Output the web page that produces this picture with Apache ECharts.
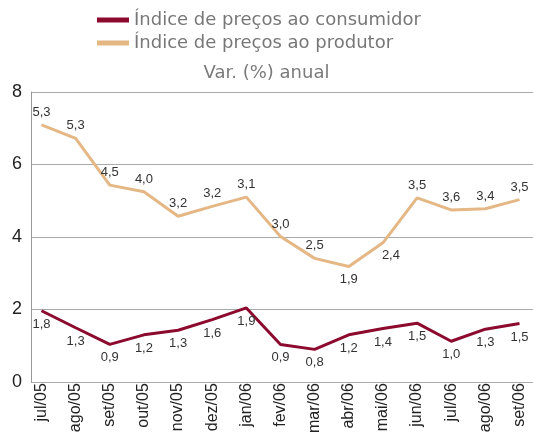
<!DOCTYPE html>
<html>
<head>
<meta charset="utf-8">
<script src="https://cdn.jsdelivr.net/npm/echarts@6/dist/echarts.min.js"></script>
<style>
  html, body { margin: 0; padding: 0; background: #fff; }
  #chart { width: 533px; height: 436px; }
</style>
</head>
<body>
<div id="chart"></div>
<script>
// meses
const months = ['jul/05', 'ago/05', 'set/05', 'out/05', 'nov/05', 'dez/05', 'jan/06',
  'fev/06', 'mar/06', 'abr/06', 'mai/06', 'jun/06', 'jul/06', 'ago/06', 'set/06']

// posição das linhas
const consumerValues = [1.82, 1.34, 0.87, 1.14, 1.27, 1.57, 1.90, 0.87, 0.73, 1.14, 1.32, 1.47, 0.96, 1.30, 1.46]
const producerValues = [7.07, 6.69, 5.37, 5.18, 4.49, 4.77, 5.03, 3.92, 3.30, 3.07, 3.74, 5.01, 4.67, 4.70, 4.96]

// rótulos impressos
const consumerLabels = ['1,8', '1,3', '0,9', '1,2', '1,3', '1,6', '1,9', '0,9', '0,8', '1,2', '1,4', '1,5', '1,0', '1,3', '1,5']
const producerLabels = ['5,3', '5,3', '4,5', '4,0', '3,2', '3,2', '3,1', '3,0', '2,5', '1,9', '2,4', '3,5', '3,6', '3,4', '3,5']

const yTicks = [0, 2, 4, 6, 8]

const consumerName = 'Índice de preços ao consumidor'
const producerName = 'Índice de preços ao produtor'

const narrow = '"Liberation Sans Narrow", "Liberation Sans", Arial, sans-serif'

const labelFont = {
  fontFamily: narrow,
  fontSize: 13,
  color: '#333'
}

const chart = echarts.init(document.getElementById('chart'))

const option = {
  animation: false,
  title: {
    text: 'Var. (%) anual',
    left: 'center',
    top: 59,
    textStyle: { fontFamily: 'DejaVu Sans', fontSize: 18, fontWeight: 'normal', color: '#7a7a7a' }
  },
  legend: {
    orient: 'vertical',
    left: 92,
    top: 6,
    itemWidth: 32,
    itemHeight: 5,
    itemGap: 5,
    icon: 'rect',
    data: [consumerName, producerName],
    textStyle: { fontFamily: 'DejaVu Sans', fontSize: 18, color: '#777' }
  },
  grid: [
    { left: 31, right: 0, top: 92, bottom: 54 },
    { left: 41.5, right: 13.5, top: 92, bottom: 54 }
  ],
  xAxis: [
    {
      type: 'category',
      gridIndex: 0,
      data: months,
      axisLine: { show: false },
      axisTick: { show: false },
      axisLabel: { show: false }
    },
    {
      type: 'category',
      gridIndex: 1,
      data: months,
      boundaryGap: false,
      axisLine: { show: false },
      axisTick: { show: false },
      axisLabel: {
        rotate: 90,
        margin: 8,
        interval: 0,
        fontFamily: narrow,
        fontSize: 16,
        color: '#222'
      }
    }
  ],
  yAxis: [
    {
      type: 'value',
      gridIndex: 0,
      min: yTicks[0],
      max: yTicks[yTicks.length - 1],
      interval: 2,
      axisLine: { show: true, lineStyle: { color: '#999', width: 1 } },
      axisTick: { show: false },
      splitLine: { lineStyle: { color: '#aaa', width: 1 } },
      axisLabel: {
        margin: 9,
        fontFamily: 'Liberation Sans, Arial, sans-serif',
        fontSize: 18,
        color: '#222'
      }
    },
    {
      type: 'value',
      gridIndex: 1,
      min: yTicks[0],
      max: yTicks[yTicks.length - 1],
      interval: 2,
      show: false
    }
  ],
  series: [
    {
      name: consumerName,
      type: 'line',
      xAxisIndex: 1,
      yAxisIndex: 1,
      data: consumerValues,
      symbol: 'circle',
      symbolSize: 0,
      showSymbol: true,
      color: '#8c0a2e',
      lineStyle: { width: 3, color: '#8c0a2e' },
      label: {
        show: true,
        position: 'bottom',
        distance: 7,
        formatter: p => consumerLabels[p.dataIndex],
        ...labelFont
      }
    },
    {
      name: producerName,
      type: 'line',
      xAxisIndex: 1,
      yAxisIndex: 1,
      data: producerValues.map((v, i) => {
        if (i === 9) return { value: v, label: { position: 'bottom' } }
        if (i === 10) return { value: v, label: { position: 'bottom', offset: [8, 0] } }
        return v
      }),
      symbol: 'circle',
      symbolSize: 0,
      showSymbol: true,
      color: '#e4b785',
      lineStyle: { width: 3, color: '#e4b785' },
      label: {
        show: true,
        position: 'top',
        distance: 6,
        formatter: p => producerLabels[p.dataIndex],
        ...labelFont
      }
    }
  ]
}

chart.setOption(option)
</script>
</body>
</html>
